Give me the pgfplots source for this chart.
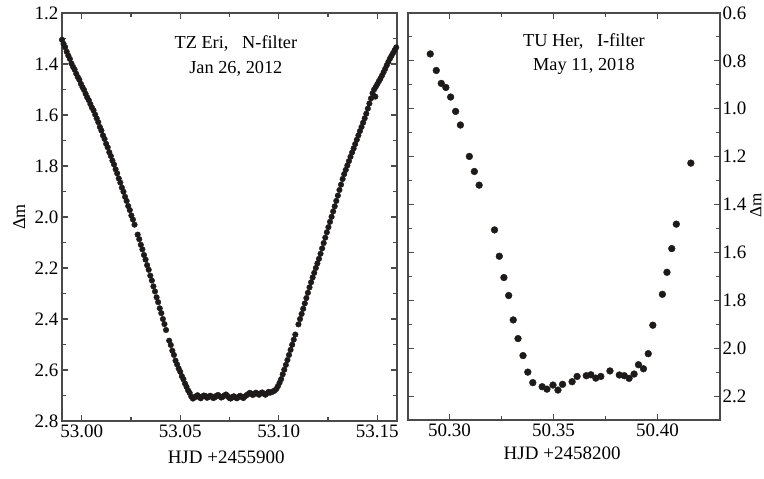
\documentclass[border=0pt]{standalone}
\usepackage{fontspec}
\setmainfont{Liberation Serif}
\newfontfamily\tnr{Liberation Serif}
\usepackage{pgfplots}
\pgfplotsset{compat=1.18}

\definecolor{dotc}{HTML}{1E1A1A}
\definecolor{axc}{HTML}{4A4A4A}

\pgfplotsset{
  lc/.style={
    scale only axis,
    y dir=reverse,
    axis line style={axc, line width=1.3pt},
    every tick/.style={axc, line width=1.1pt},
    major tick length=6pt, minor tick length=4pt,
    tick align=inside, tick pos=both,
    minor tick num=1,
    /pgf/number format/assume math mode=true,
    ticklabel style={font=\tnr\fontsize{19}{22}\selectfont},
    xticklabel style={/pgf/number format/.cd, fixed, fixed zerofill, precision=2},
    yticklabel style={/pgf/number format/.cd, fixed, fixed zerofill, precision=1},
    ylabel style={rotate=0, anchor=center, inner sep=0pt, font=\tnr\fontsize{18}{20}\selectfont},
    xlabel style={anchor=center},
  }
}

\begin{document}
\begin{tikzpicture}[font=\tnr\fontsize{19}{22}\selectfont]
\useasboundingbox (0,0) rectangle (764pt,479pt);

% left panel: TZ Eri
\begin{axis}[lc,
  at={(62pt,58pt)}, anchor=south west,
  width=335pt, height=408pt,
  xmin=52.99, xmax=53.16, ymin=1.2, ymax=2.8,
  xtick={53.00,53.05,53.10,53.15},
  ytick={1.2,1.4,1.6,1.8,2.0,2.2,2.4,2.6,2.8},
  xticklabel pos=lower, yticklabel pos=left,
  xlabel={HJD +2455900}, ylabel={Δm},
  xlabel style={at={(axis description cs:0.49,-0.088)}},
  ylabel style={at={(axis description cs:-0.128,0.5)}},
]
\addplot[only marks, mark=*, mark size=2.8pt, color=dotc] coordinates {
(52.9900,1.305) (52.9908,1.321) (52.9916,1.334) (52.9924,1.352) (52.9932,1.367)
(52.9940,1.380) (52.9948,1.398) (52.9956,1.411) (52.9964,1.422) (52.9972,1.438)
(52.9980,1.451) (52.9988,1.462) (52.9996,1.478) (53.0004,1.491) (53.0012,1.502)
(53.0020,1.517) (53.0028,1.531) (53.0036,1.542) (53.0044,1.557) (53.0052,1.571)
(53.0060,1.582) (53.0068,1.598) (53.0076,1.613) (53.0084,1.628) (53.0092,1.647)
(53.0100,1.661) (53.0108,1.680) (53.0116,1.694) (53.0124,1.713) (53.0132,1.727)
(53.0140,1.746) (53.0148,1.761) (53.0156,1.779) (53.0164,1.794) (53.0172,1.813)
(53.0180,1.829) (53.0188,1.849) (53.0196,1.865) (53.0204,1.885) (53.0212,1.901)
(53.0220,1.921) (53.0228,1.937) (53.0236,1.957) (53.0244,1.973) (53.0252,1.994)
(53.0260,2.010) (53.0268,2.030) (53.0284,2.069) (53.0292,2.087)
(53.0300,2.109) (53.0308,2.127) (53.0316,2.149) (53.0324,2.167) (53.0332,2.189)
(53.0340,2.207) (53.0348,2.230) (53.0356,2.249) (53.0364,2.272) (53.0372,2.292)
(53.0380,2.315) (53.0388,2.334) (53.0396,2.358) (53.0404,2.377) (53.0412,2.400)
(53.0420,2.420) (53.0428,2.443) (53.0444,2.485) (53.0452,2.502)
(53.0460,2.524) (53.0468,2.541) (53.0476,2.563) (53.0484,2.578) (53.0492,2.594)
(53.0500,2.607) (53.0508,2.624) (53.0516,2.636) (53.0524,2.653) (53.0532,2.666)
(53.0540,2.680) (53.0548,2.690) (53.0556,2.704)
(53.0564,2.712) (53.0572,2.708) (53.0580,2.703) (53.0588,2.699) (53.0596,2.706)
(53.0604,2.711) (53.0612,2.704) (53.0620,2.700) (53.0628,2.702) (53.0636,2.709)
(53.0644,2.706) (53.0652,2.701) (53.0660,2.704) (53.0668,2.710) (53.0676,2.707)
(53.0684,2.701) (53.0692,2.698) (53.0700,2.703) (53.0708,2.708) (53.0716,2.705)
(53.0724,2.700) (53.0732,2.696) (53.0740,2.702) (53.0748,2.709) (53.0756,2.712)
(53.0764,2.706) (53.0772,2.703) (53.0780,2.708) (53.0788,2.711) (53.0796,2.705)
(53.0804,2.701) (53.0812,2.706) (53.0820,2.710) (53.0828,2.704) (53.0836,2.699)
(53.0844,2.695) (53.0852,2.690) (53.0860,2.692) (53.0868,2.698) (53.0876,2.694)
(53.0884,2.689) (53.0892,2.693) (53.0900,2.697) (53.0908,2.691) (53.0916,2.688)
(53.0924,2.693) (53.0932,2.697) (53.0940,2.692) (53.0948,2.686) (53.0956,2.689)
(53.0964,2.686) (53.0972,2.684) (53.0980,2.680) (53.0988,2.674) (53.0996,2.663)
(53.1004,2.650) (53.1012,2.636) (53.1020,2.617) (53.1028,2.599) (53.1036,2.580)
(53.1044,2.561) (53.1052,2.541) (53.1060,2.521) (53.1068,2.501) (53.1076,2.481)
(53.1084,2.461) (53.1100,2.421) (53.1108,2.400)
(53.1116,2.380) (53.1124,2.360) (53.1132,2.339) (53.1140,2.318) (53.1148,2.297)
(53.1156,2.276) (53.1164,2.256) (53.1172,2.237) (53.1180,2.219) (53.1188,2.200)
(53.1196,2.182) (53.1204,2.164) (53.1212,2.144) (53.1220,2.123) (53.1228,2.102)
(53.1236,2.081) (53.1244,2.060) (53.1252,2.040) (53.1260,2.019) (53.1268,1.999)
(53.1276,1.978) (53.1284,1.958) (53.1292,1.937) (53.1300,1.916) (53.1308,1.894)
(53.1316,1.873) (53.1324,1.851) (53.1332,1.832) (53.1340,1.815) (53.1348,1.798)
(53.1356,1.781) (53.1364,1.764) (53.1372,1.747) (53.1380,1.731) (53.1388,1.714)
(53.1396,1.697) (53.1404,1.680) (53.1412,1.663) (53.1420,1.647) (53.1428,1.630)
(53.1436,1.613) (53.1444,1.595) (53.1452,1.575) (53.1460,1.555) (53.1468,1.535)
(53.1476,1.515) (53.1484,1.500) (53.1490,1.528) (53.1492,1.490) (53.1500,1.479)
(53.1508,1.468) (53.1516,1.457) (53.1524,1.445) (53.1532,1.432) (53.1540,1.419)
(53.1548,1.405) (53.1556,1.392) (53.1564,1.379) (53.1572,1.368) (53.1580,1.357)
(53.1588,1.346) (53.1596,1.335)
};
\node[align=center, font=\tnr\fontsize{18.3}{25}\selectfont] at (rel axis cs:0.519,0.895)
  {TZ Eri,\ \ \ N-filter\\Jan 26, 2012};
\end{axis}

% right panel: TU Her
\begin{axis}[lc,
  at={(408pt,59pt)}, anchor=south west,
  width=312pt, height=407pt,
  xmin=50.28, xmax=50.43, ymin=0.6, ymax=2.3,
  xtick={50.30,50.35,50.40},
  ytick={0.6,0.8,1.0,1.2,1.4,1.6,1.8,2.0,2.2},
  minor ytick={0.7,0.9,1.1,1.3,1.5,1.7,1.9,2.1,2.3},
  xticklabel pos=lower, yticklabel pos=right,
  yticklabel style={/tikz/xshift=-1pt},
  xlabel={HJD +2458200}, ylabel={Δm},
  xlabel style={at={(axis description cs:0.494,-0.081)}},
  ylabel style={at={(axis description cs:1.115,0.528)}, font=\tnr\fontsize{17}{19}\selectfont},
]
\addplot[only marks, mark=*, mark size=3.4pt, color=dotc] coordinates {
(50.2907,0.771) (50.2936,0.840) (50.2960,0.894) (50.2982,0.911) (50.3005,0.951)
(50.3029,1.011) (50.3052,1.068) (50.3095,1.199) (50.3119,1.262) (50.3142,1.319)
(50.3216,1.506) (50.3239,1.616) (50.3261,1.705) (50.3284,1.780) (50.3306,1.882)
(50.3329,1.960) (50.3353,2.031) (50.3376,2.100) (50.3400,2.144) (50.3445,2.161)
(50.3468,2.171) (50.3497,2.154) (50.3521,2.175) (50.3543,2.151) (50.3589,2.140)
(50.3613,2.118) (50.3657,2.115) (50.3679,2.111) (50.3703,2.125) (50.3727,2.118)
(50.3771,2.095) (50.3816,2.112) (50.3840,2.115) (50.3863,2.126) (50.3887,2.108)
(50.3908,2.069) (50.3932,2.086) (50.3955,2.023) (50.3977,1.904) (50.4023,1.775)
(50.4045,1.683) (50.4068,1.584) (50.4090,1.482) (50.4160,1.227)
};
\node[align=center, font=\tnr\fontsize{18.3}{24}\selectfont] at (rel axis cs:0.564,0.90)
  {TU Her,\ \ \ I-filter\\May 11, 2018};
\end{axis}
\end{tikzpicture}
\end{document}
